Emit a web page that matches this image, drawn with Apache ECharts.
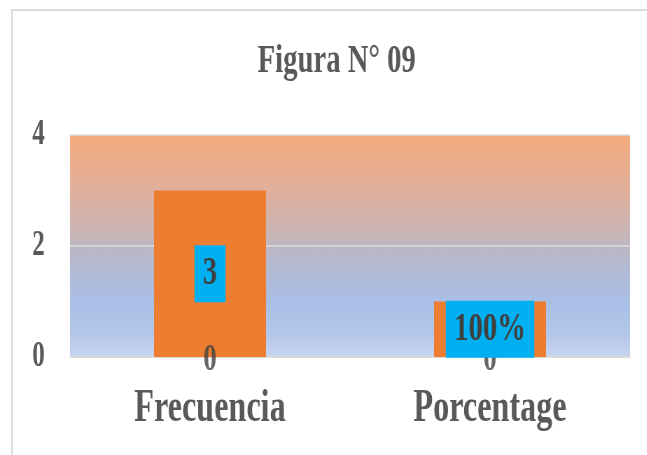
<!DOCTYPE html>
<html>
<head>
<meta charset="utf-8">
<script src="https://cdn.jsdelivr.net/npm/echarts@6/dist/echarts.min.js"></script>
<style>
  html, body { margin: 0; padding: 0; background: #ffffff; overflow: hidden; }
  /* chart is laid out wide and narrowed horizontally for a condensed look */
  #chart { width: 924px; height: 455px; transform: scaleX(0.7); transform-origin: 0 0; }
</style>
</head>
<body>
<div id="chart"></div>
<script>
// Chart data
const titleText = 'Figura N° 09';
const categories = ['Frecuencia', 'Porcentage'];
const values = [3, 1];            // Porcentage: 1 = 100%
const percentCategory = 'Porcentage';
const baseValues = [0, 0];        // the "0" marks at the foot of each bar
const yTicks = [0, 2, 4];

const serif = '"Liberation Serif", "Times New Roman", serif';

function valueText(p) {
  return p.name === percentCategory ? Math.round(p.value * 100) + '%' : String(p.value);
}

const chart = echarts.init(document.getElementById('chart'));
chart.setOption({
  animation: false,
  backgroundColor: '#ffffff',
  title: {
    text: titleText,
    left: 476,
    top: 36,
    textAlign: 'center',
    padding: 5,
    textStyle: { fontFamily: serif, fontWeight: 'bold', fontSize: 41, color: '#595959' }
  },
  graphic: [{
    type: 'rect',
    shape: { x: 17, y: 10, width: 1000, height: 600 },
    style: { fill: 'none', stroke: '#d9d9d9', lineWidth: 2 },
    silent: true,
    z: 0
  }],
  grid: {
    left: 100, right: 24, top: 135, bottom: 98,
    show: true,
    borderWidth: 0,
    backgroundColor: new echarts.graphic.LinearGradient(0, 0, 0, 1, [
      { offset: 0, color: '#f4ab7e' },
      { offset: 0.25, color: '#e1b09b' },
      { offset: 0.45, color: '#c8b5b7' },
      { offset: 0.55, color: '#b6b9cc' },
      { offset: 0.75, color: '#a9bfe6' },
      { offset: 0.9, color: '#b4c7ea' },
      { offset: 1, color: '#c8d6ef' }
    ])
  },
  xAxis: {
    type: 'category',
    data: categories,
    axisLine: { show: true, lineStyle: { color: '#d9d9d9', width: 1 } },
    axisTick: { show: false },
    axisLabel: {
      margin: 29,
      fontFamily: serif, fontWeight: 'bold', fontSize: 46, color: '#595959'
    }
  },
  yAxis: {
    type: 'value',
    min: yTicks[0],
    max: yTicks[yTicks.length - 1],
    interval: yTicks[1] - yTicks[0],
    axisLine: { show: false },
    axisTick: { show: false },
    splitLine: { show: true, lineStyle: { color: '#dcdcdc', width: 1.5 } },
    axisLabel: {
      margin: 36,
      fontFamily: serif, fontWeight: 'bold', fontSize: 36, color: '#595959'
    }
  },
  series: [
    {
      name: 'bars',
      type: 'bar',
      data: values,
      barWidth: '40%',
      barGap: '-100%',
      itemStyle: { color: '#ed7d31' },
      z: 2
    },
    {
      name: 'base',
      type: 'scatter',
      data: baseValues,
      symbolSize: 1,
      itemStyle: { color: 'rgba(0,0,0,0)' },
      label: {
        show: true,
        position: 'inside',
        offset: [0, 3],
        formatter: p => String(p.value),
        fontFamily: serif, fontWeight: 'bold', fontSize: 38, color: '#404040'
      },
      z: 3
    },
    {
      name: 'values',
      type: 'bar',
      data: values,
      barWidth: '40%',
      barGap: '-100%',
      itemStyle: { color: 'rgba(0,0,0,0)' },
      label: {
        show: true,
        position: 'inside',
        formatter: valueText,
        fontFamily: serif, fontWeight: 'bold', fontSize: 41, lineHeight: 41,
        color: '#404040',
        backgroundColor: '#00b0f0',
        padding: [8, 12]
      },
      z: 4
    }
  ]
});
</script>
</body>
</html>
